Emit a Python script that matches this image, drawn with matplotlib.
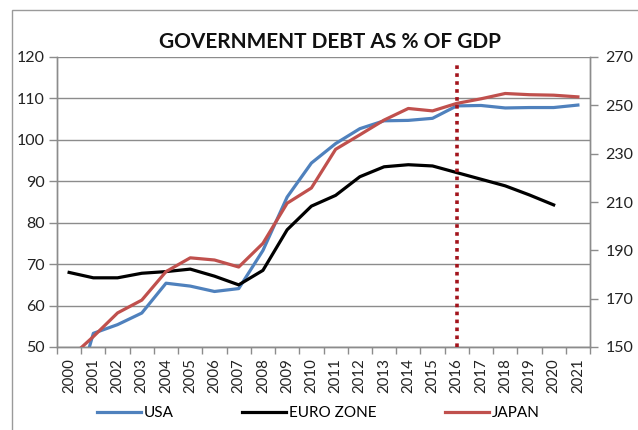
import matplotlib
matplotlib.use('Agg')
import matplotlib.pyplot as plt
from matplotlib.patches import Rectangle
import numpy as np

# Dados
anos = [str(a) for a in range(2000, 2022)]
usa = [33, 53.3, 55.4, 58.2, 65.4, 64.7, 63.4, 64.1, 73.3, 86.2, 94.4, 99.1,
       102.7, 104.6, 104.7, 105.2, 108.2, 108.3, 107.7, 107.8, 107.8, 108.4]
euro = [68.0, 66.7, 66.7, 67.8, 68.2, 68.8, 67.1, 65.0, 68.5, 78.3, 84.0, 86.6,
        91.1, 93.5, 94.0, 93.7, 92.1, 90.5, 88.9, 86.7, 84.3]
japao = [145.2, 154.3, 164.1, 169.4, 181.2, 186.9, 186.0, 183.1, 192.9, 209.5, 215.8,
         231.8, 237.8, 243.9, 248.7, 247.7, 250.8, 252.7, 254.9, 254.4, 254.2, 253.5]
ano_marcado = '2016'

# Cores
cor_usa = '#4f81bd'
cor_euro = '#000000'
cor_japao = '#c0504d'
cor_grade = '#8c8c8c'
cor_pontilhado = '#a3141c'

plt.rcParams['font.family'] = ['Lato', 'DejaVu Sans']

fig = plt.figure(figsize=(6.38, 4.30), dpi=100)
ax = fig.add_axes([57/638, 1 - 347/430, 533/638, 290/430])
ax2 = ax.twinx()

x = np.arange(len(anos))
l1, = ax.plot(x, usa, color=cor_usa, lw=2.3, label='USA', zorder=3)
l2, = ax.plot(x[:len(euro)], euro, color=cor_euro, lw=2.3, label='EURO ZONE', zorder=3)
l3, = ax2.plot(x, japao, color=cor_japao, lw=2.3, label='JAPAN', zorder=3)

i16 = anos.index(ano_marcado)
ax2.plot([i16, i16], [150, 266.5], color=cor_pontilhado, lw=2.6,
         linestyle=(0, (1, 1.2)), zorder=5)

ax.set_xlim(-0.5, len(anos) - 0.5)
ax.set_ylim(50, 120)
ax2.set_ylim(150, 270)
ax.set_yticks(range(50, 121, 10))
ax2.set_yticks(range(150, 271, 20))

ax.set_xticks(x)
ax.set_xticklabels(anos, rotation=90)
ax.set_xticks(np.arange(-0.5, len(anos)), minor=True)
ax.tick_params(axis='x', which='major', length=0, pad=8, labelsize=10.8, colors='#222222')
ax.tick_params(axis='x', which='minor', length=5, color=cor_grade, width=1)
ax.tick_params(axis='y', length=6, color=cor_grade, width=1, pad=3, labelsize=11.5,
               labelcolor='#222222')
ax2.tick_params(axis='y', length=6, color=cor_grade, width=1, pad=5, labelsize=11.5,
                labelcolor='#222222')

for a in (ax, ax2):
    a.spines['top'].set_visible(False)
    for s in ('left', 'right', 'bottom'):
        a.spines[s].set_color(cor_grade)
        a.spines[s].set_linewidth(1)

ax.yaxis.grid(True, color=cor_grade, lw=1)
ax.set_axisbelow(True)

fig.text(330/638, 1 - 42/430, 'GOVERNMENT DEBT AS % OF GDP', ha='center', va='center',
         fontsize=15, fontweight='bold', color='#111111')

fig.legend(handles=[l1, l2, l3], loc='center', bbox_to_anchor=(318/638, 1 - 413/430),
           ncol=3, frameon=False, fontsize=11, handlelength=2.9, handletextpad=0.15,
           columnspacing=4.5)

# Moldura externa
fig.patches.append(Rectangle((12/638, -0.05), 1.0, 1 - 10/430 + 0.05,
                             transform=fig.transFigure, fill=False,
                             edgecolor='#9a9a9a', lw=1))

fig.savefig('out.png', dpi=100)
